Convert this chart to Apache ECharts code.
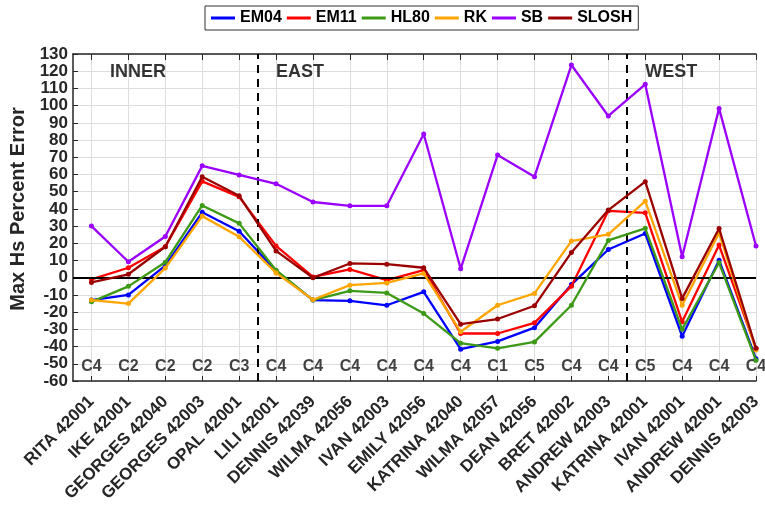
<!DOCTYPE html>
<html>
<head>
<meta charset="utf-8">
<script src="https://cdn.jsdelivr.net/npm/echarts@6/dist/echarts.min.js"></script>
<style>
  html, body { margin: 0; padding: 0; background: #fff; }
  #chart { width: 765px; height: 509px; }
</style>
</head>
<body>
<div id="chart"></div>
<script>
// stations along the x axis
const stations = ['RITA 42001', 'IKE 42001', 'GEORGES 42040', 'GEORGES 42003', 'OPAL 42001',
  'LILI 42001', 'DENNIS 42039', 'WILMA 42056', 'IVAN 42003', 'EMILY 42056', 'KATRINA 42040',
  'WILMA 42057', 'DEAN 42056', 'BRET 42002', 'ANDREW 42003', 'KATRINA 42001', 'IVAN 42001',
  'ANDREW 42001', 'DENNIS 42003']
const classes = ['C4', 'C2', 'C2', 'C2', 'C3', 'C4', 'C4', 'C4', 'C4', 'C4', 'C4', 'C1', 'C5', 'C4',
  'C4', 'C5', 'C4', 'C4', 'C4']

// max Hs percent error per model
const em04 = [-13, -10, 7, 38, 27, 4, -13, -13.4, -16, -8.2, -41.5, -37, -29, -4, 16.4, 25.7, -34, 10.2, -47]
const em11 = [-1, 5.8, 18, 56, 47, 18.5, 0.5, 4.8, -1.4, 4.4, -32.4, -32.4, -26.2, -4.9, 38.9, 37.7, -25.6, 19, -41]
const hl80 = [-14, -5, 9, 42, 31.6, 4.4, -13, -7.6, -8.8, -20.8, -38, -41, -37.3, -16, 21.7, 28.7, -30, 8.7, -48]
const rk = [-13, -15, 5.6, 35.8, 23.8, 2.8, -12.8, -4.3, -3, 2.5, -31.4, -16, -9.1, 21.3, 25.2, 44.5, -16, 26, -42]
const sb = [30, 9.3, 24, 65, 59.7, 54.6, 44, 41.8, 41.8, 83.5, 5.2, 71.3, 58.7, 123.6, 94, 112.4, 12.2, 98.4, 18.4]
const slosh = [-2.7, 2, 18, 58.7, 47.6, 15.6, 0, 8.3, 7.9, 5.8, -27, -24, -16.3, 14.7, 39.3, 55.8, -12, 28.6, -41]

const modelNames = ['EM04', 'EM11', 'HL80', 'RK', 'SB', 'SLOSH']
const modelData = [em04, em11, hl80, rk, sb, slosh]
const modelColors = ['#0000ff', '#ff0000', '#3c9a16', '#ffa500', '#9b00ff', '#9b0000']

// region separators and titles
const dividers = [5.5, 15.5]
const regionNames = ['INNER', 'EAST', 'WEST']
const regionStart = [1.5, 6, 16]

const ticksX = stations.map((s, i) => i + 1)
const textColor = '#262626'

const chart = echarts.init(document.getElementById('chart'))

const lineSeries = modelNames.map((name, k) => ({
  name: name,
  type: 'line',
  xAxisIndex: 0,
  data: modelData[k].map((v, i) => [i + 1, v]),
  symbol: 'circle',
  symbolSize: 5,
  showSymbol: true,
  lineStyle: { width: 2.3, color: modelColors[k] },
  itemStyle: { color: modelColors[k] },
  z: 3 + k
}))

const option = {
  animation: false,
  textStyle: { fontFamily: 'Liberation Sans, Arial, sans-serif' },
  legend: {
    data: modelNames,
    left: 205,
    top: 6,
    itemWidth: 24,
    itemHeight: 3,
    itemGap: 5,
    padding: [4, 6, 4, 6],
    borderColor: '#333',
    borderWidth: 1,
    icon: 'rect',
    textStyle: { fontSize: 16, fontWeight: 'bold', color: '#000' }
  },
  grid: { left: 73, top: 54, right: 9, bottom: 128, containLabel: false },
  xAxis: [{
    type: 'value',
    min: 0.5,
    max: 19,
    axisLine: { show: true, onZero: false, lineStyle: { color: textColor, width: 1.5 } },
    axisTick: { show: true, inside: true, length: 5, customValues: ticksX, lineStyle: { color: textColor } },
    axisLabel: {
      customValues: ticksX,
      rotate: 45,
      margin: 18,
      fontSize: 17,
      fontWeight: 'bold',
      color: textColor,
      formatter: v => stations[Math.round(v) - 1] || ''
    },
    splitLine: { show: true, lineStyle: { color: '#dddddd', width: 1 } }
  }, {
    type: 'value',
    position: 'top',
    min: 0.5,
    max: 19,
    axisLine: { show: true, onZero: false, lineStyle: { color: textColor, width: 1.5 } },
    axisTick: { show: true, inside: true, length: 6, customValues: ticksX, lineStyle: { color: textColor } },
    axisLabel: { show: false },
    splitLine: { show: false }
  }],
  yAxis: {
    type: 'value',
    min: -60,
    max: 130,
    interval: 10,
    name: 'Max Hs Percent Error',
    nameLocation: 'middle',
    nameGap: 43,
    nameTextStyle: { fontSize: 20, fontWeight: 'bold', color: textColor, padding: [0, 0, 0, 17] },
    axisLine: { show: true, lineStyle: { color: textColor, width: 1.5 } },
    axisTick: { show: true, inside: true, length: 5, lineStyle: { color: textColor } },
    axisLabel: { fontSize: 17, fontWeight: 'bold', color: textColor, margin: 5 },
    splitLine: { show: true, lineStyle: { color: '#dddddd', width: 1 } }
  },
  series: lineSeries.concat([{
    // storm class labels along the bottom + reference lines
    type: 'scatter',
    xAxisIndex: 0,
    data: classes.map((c, i) => [i + 1, -51.5]),
    symbolSize: 0,
    silent: true,
    label: {
      show: true,
      position: 'inside',
      formatter: p => classes[p.dataIndex],
      fontSize: 16,
      fontWeight: 'bold',
      color: '#111'
    },
    markLine: {
      silent: true,
      symbol: 'none',
      label: { show: false },
      data: [
        { yAxis: 0, lineStyle: { color: '#000', width: 2, type: 'solid' } }
      ].concat(dividers.map(d => ({ xAxis: d, lineStyle: { color: '#000', width: 2, type: [8, 6] } })))
    },
    z: 2
  }, {
    // region titles
    type: 'scatter',
    xAxisIndex: 0,
    data: regionNames.map((r, i) => [regionStart[i], 119.5]),
    symbolSize: 0,
    silent: true,
    label: {
      show: true,
      position: 'right',
      distance: 0,
      formatter: p => regionNames[p.dataIndex],
      fontSize: 18,
      fontWeight: 'bold',
      color: '#000'
    }
  }])
}

chart.setOption(option)
</script>
</body>
</html>
